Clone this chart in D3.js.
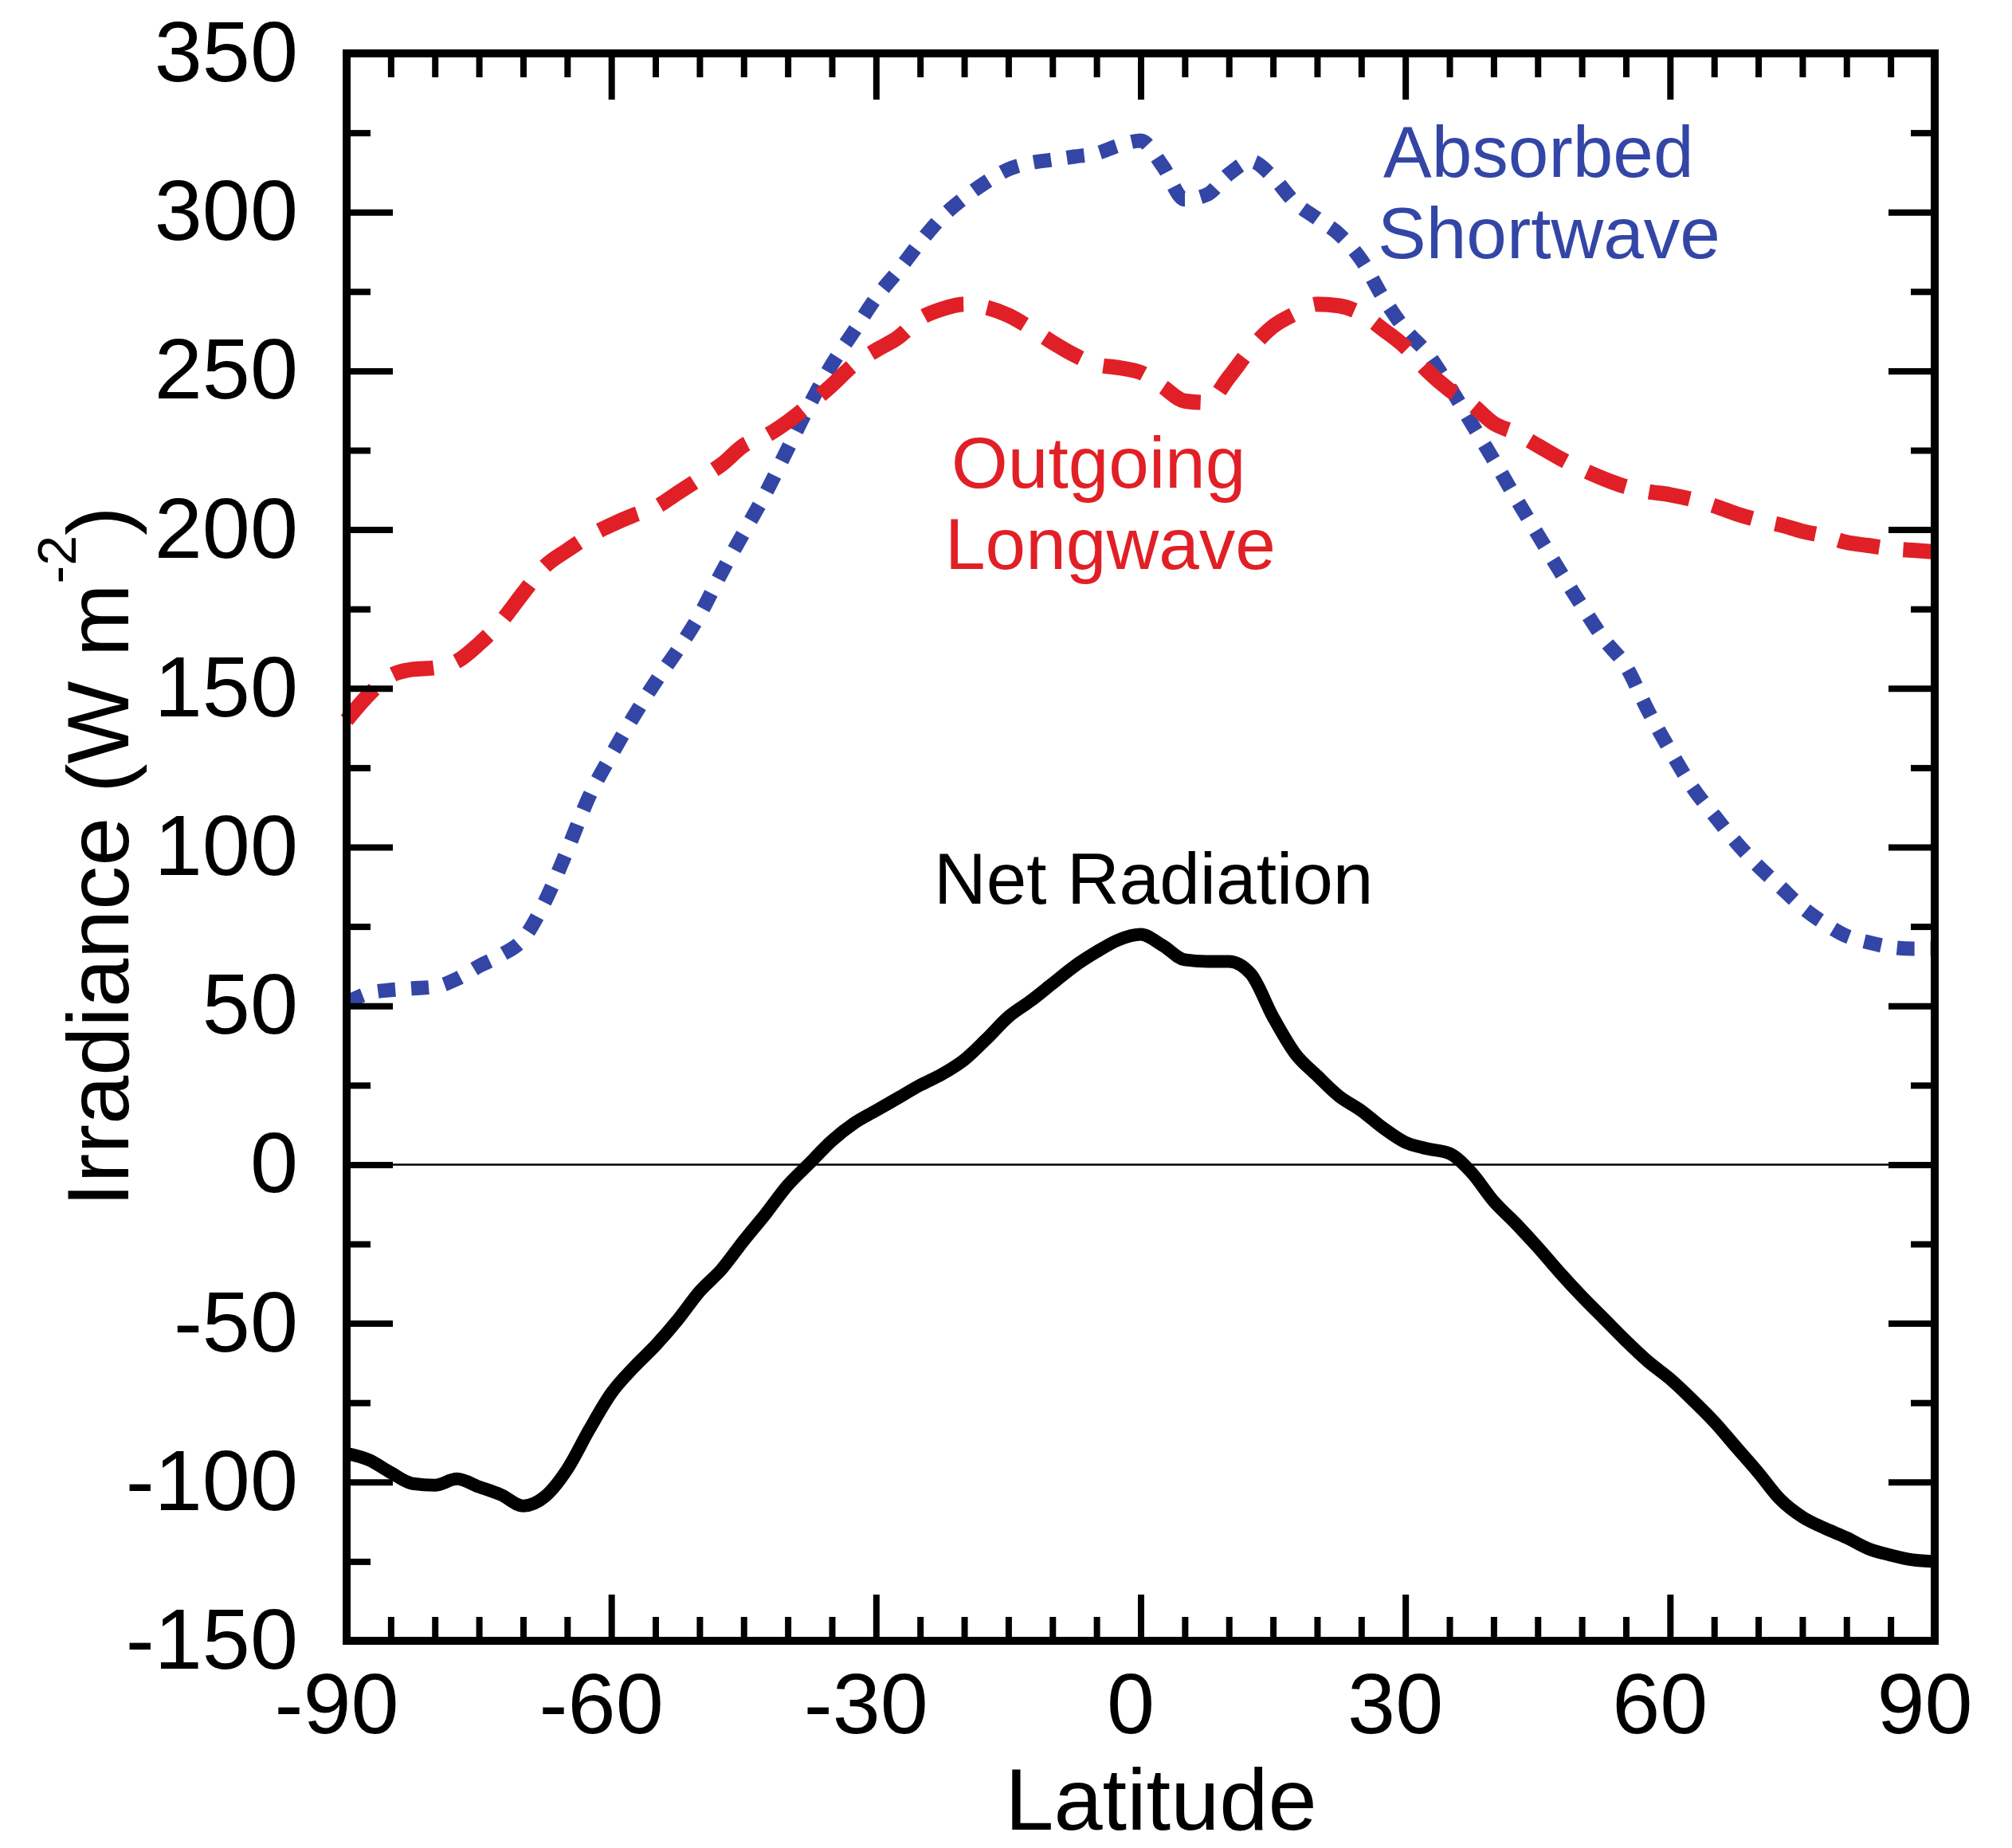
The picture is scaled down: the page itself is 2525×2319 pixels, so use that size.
<!DOCTYPE html>
<html>
<head>
<meta charset="utf-8">
<script src="https://cdn.jsdelivr.net/npm/d3@7"></script>
<style>
  body { margin: 0; background: #fff; }
  svg { display: block; }
</style>
</head>
<body>
<div id="chart"></div>
<script>
////////////////////////////////////////////////////////////////////
////////////////////////////  Data  ////////////////////////////////

const latitude = [
  -90, -87.5, -85, -82.5, -80, -77.5, -75, -72.5, -70, -67.5, -65, -62.5,
  -60, -57.5, -55, -52.5, -50, -47.5, -45, -42.5, -40, -37.5, -35, -32.5,
  -30, -27.5, -25, -22.5, -20, -17.5, -15, -12.5, -10, -7.5, -5, -2.5,
  0, 2.5, 5, 7.5, 10, 12.5, 15, 17.5, 20, 22.5, 25, 27.5,
  30, 32.5, 35, 37.5, 40, 42.5, 45, 47.5, 50, 52.5, 55, 57.5,
  60, 62.5, 65, 67.5, 70, 72.5, 75, 77.5, 80, 82.5, 85, 87.5, 90,
];

const netRadiation = [
  -91, -93, -97, -100.5, -101, -99, -101.5, -104, -107.5, -104.5, -96, -83.5,
  -72, -64, -57, -49, -40, -33, -24, -15.5, -6.5, 0.5, 7.5, 13,
  17, 21, 25, 28.5, 33, 39.5, 46.5, 51.5, 57, 62.5, 67, 70.8,
  72.5, 69, 64.5, 64, 64, 60, 46.5, 35, 28, 21.5, 17, 11.5,
  7, 5, 3.5, -2.5, -11.5, -18.5, -26, -34, -41.5, -48.5, -55.5, -62,
  -67.5, -74, -81, -89, -97, -105.5, -111, -114.5, -117.5, -121, -123, -124.5, -125,
];

const outgoingLongwave = [
  140, 148, 154, 156, 156.5, 158.5, 164, 171, 180, 188.5, 193.5, 198,
  201.5, 204.5, 207, 211.5, 216, 220.5, 226.5, 229.5, 234, 239.5, 245.5, 252,
  256.5, 260.5, 266.5, 269.5, 271, 270, 267.5, 263.5, 259, 255, 252, 251,
  249.5, 245, 240.5, 240, 248, 257, 264, 268, 271, 270.5, 268, 263,
  257.5, 250, 244, 239.5, 233.5, 230.5, 226.5, 222.5, 219, 216, 213.5, 212,
  211, 209.5, 207.5, 205, 203, 201.5, 199.5, 198, 196, 195, 194, 193.5, 193,
];

const absorbedShortwave = [
  51, 54, 55, 55.5, 56, 58.5, 62.5, 66, 71, 83, 99, 116,
  129, 141, 152, 162, 173, 186.5, 199, 211.5, 225.5, 239.5, 252, 262.5,
  273, 281.5, 290.5, 298.5, 304.5, 309.5, 313.5, 315.5, 316.5, 317.5, 318.5, 321,
  322.5, 314.5, 304, 305.5, 312, 316, 311, 303, 298, 293, 285, 273,
  263, 255.5, 245, 233.5, 222, 210, 198.5, 187, 176, 165.5, 157, 143,
  130.5, 119, 110, 101.5, 94, 87.5, 81, 76, 72, 70, 68.5, 68, 68,
];

const xTicks = [-90, -60, -30, 0, 30, 60, 90];
const xMinorTicks = [
  -85, -80, -75, -70, -65, -55, -50, -45, -40, -35, -25, -20, -15, -10, -5,
  5, 10, 15, 20, 25, 35, 40, 45, 50, 55, 65, 70, 75, 80, 85,
];
const yTicks = [-150, -100, -50, 0, 50, 100, 150, 200, 250, 300, 350];
const yMinorTicks = [-125, -75, -25, 25, 75, 125, 175, 225, 275, 325];

////////////////////////////////////////////////////////////////////
////////////////////////////  Init  ////////////////////////////////

const width = 2525;
const height = 2319;
const margin = { top: 67, right: 97, bottom: 260, left: 435 };
const font = "'Liberation Sans', Arial, Helvetica, sans-serif";

const red = "rgb(224, 32, 38)";
const blue = "rgb(51, 70, 166)";

const svg = d3
  .select("#chart")
  .append("svg")
  .attr("width", width)
  .attr("height", height)
  .style("background", "#fff");

const x = d3
  .scaleLinear()
  .domain([-90, 90])
  .range([margin.left, width - margin.right]);

const y = d3
  .scaleLinear()
  .domain([-150, 350])
  .range([height - margin.bottom, margin.top]);

////////////////////////////////////////////////////////////////////
////////////////////////////  Lines  ///////////////////////////////

const line = d3
  .line()
  .x((d) => x(d[0]))
  .y((d) => y(d[1]))
  .curve(d3.curveMonotoneX);

// zero line
svg
  .append("line")
  .attr("x1", x(-90))
  .attr("x2", x(90))
  .attr("y1", y(0))
  .attr("y2", y(0))
  .attr("stroke", "#000")
  .attr("stroke-width", 2.5);

svg
  .append("path")
  .datum(d3.zip(latitude, absorbedShortwave))
  .attr("d", line)
  .attr("fill", "none")
  .attr("stroke", blue)
  .attr("stroke-width", 18)
  .attr("stroke-dasharray", "22,20");

svg
  .append("path")
  .datum(d3.zip(latitude, outgoingLongwave))
  .attr("d", line)
  .attr("fill", "none")
  .attr("stroke", red)
  .attr("stroke-width", 19)
  .attr("stroke-dasharray", "52,30");

svg
  .append("path")
  .datum(d3.zip(latitude, netRadiation))
  .attr("d", line)
  .attr("fill", "none")
  .attr("stroke", "#000")
  .attr("stroke-width", 16)
  .attr("stroke-linejoin", "round");

////////////////////////////////////////////////////////////////////
////////////////////////////  Axes  ////////////////////////////////

const major = 58;
const minor = 30;
const fmt = (d) => String(d); // plain hyphen minus

const axes = [
  [d3.axisLeft(y).tickValues(yTicks).tickFormat(fmt).tickSize(-major).tickPadding(61), margin.left, 0],
  [d3.axisLeft(y).tickValues(yMinorTicks).tickFormat("").tickSize(-minor), margin.left, 0],
  [d3.axisRight(y).tickValues(yTicks).tickFormat("").tickSize(-major), width - margin.right, 0],
  [d3.axisRight(y).tickValues(yMinorTicks).tickFormat("").tickSize(-minor), width - margin.right, 0],
  [d3.axisBottom(x).tickValues(xTicks).tickFormat(fmt).tickSize(-major).tickPadding(39), 0, height - margin.bottom],
  [d3.axisBottom(x).tickValues(xMinorTicks).tickFormat("").tickSize(-minor), 0, height - margin.bottom],
  [d3.axisTop(x).tickValues(xTicks).tickFormat("").tickSize(-major), 0, margin.top],
  [d3.axisTop(x).tickValues(xMinorTicks).tickFormat("").tickSize(-minor), 0, margin.top],
];

axes.forEach(([axis, tx, ty]) => {
  const g = svg
    .append("g")
    .attr("transform", `translate(${tx}, ${ty})`)
    .call(axis)
    .attr("font-size", 108)
    .attr("font-family", font)
    .attr("color", "#000");
  g.select(".domain").remove();
  g.selectAll(".tick line").attr("stroke-width", 8);
});

// shift x labels a bit left like the original
svg.selectAll("text").filter(function () {
  return this.getAttribute("dy") === "0.71em";
}).attr("dx", -13);

// frame
svg
  .append("rect")
  .attr("x", x(-90))
  .attr("y", y(350))
  .attr("width", x(90) - x(-90))
  .attr("height", y(-150) - y(350))
  .attr("fill", "none")
  .attr("stroke", "#000")
  .attr("stroke-width", 10);

////////////////////////////////////////////////////////////////////
////////////////////////////  Labels  //////////////////////////////

svg
  .append("text")
  .attr("x", 1457)
  .attr("y", 2296)
  .attr("text-anchor", "middle")
  .attr("font-family", font)
  .attr("font-size", 110)
  .text("Latitude");

const yTitle = svg
  .append("text")
  .attr("transform", "translate(161, 1075) rotate(-90)")
  .attr("text-anchor", "middle")
  .attr("font-family", font)
  .attr("font-size", 110);
yTitle.append("tspan").text("Irradiance (W m");
yTitle.append("tspan").attr("font-size", 68).attr("dy", -66).text("-2");
yTitle.append("tspan").attr("dy", 66).text(")");

// series labels, one text per label, one tspan per line
const notes = [
  { lines: [["Absorbed", 1736, 222], ["Shortwave", 1729, 324]], color: blue },
  { lines: [["Outgoing", 1194, 612], ["Longwave", 1186, 714]], color: red },
  { lines: [["Net Radiation", 1172, 1134]], color: "#000" },
];

const noteText = svg
  .selectAll(".note")
  .data(notes)
  .enter()
  .append("text")
  .attr("class", "note")
  .attr("fill", (d) => d.color)
  .attr("font-family", font)
  .attr("font-size", 91);

noteText
  .selectAll("tspan")
  .data((d) => d.lines)
  .enter()
  .append("tspan")
  .attr("x", (d) => d[1])
  .attr("y", (d) => d[2])
  .text((d) => d[0]);
</script>
</body>
</html>
